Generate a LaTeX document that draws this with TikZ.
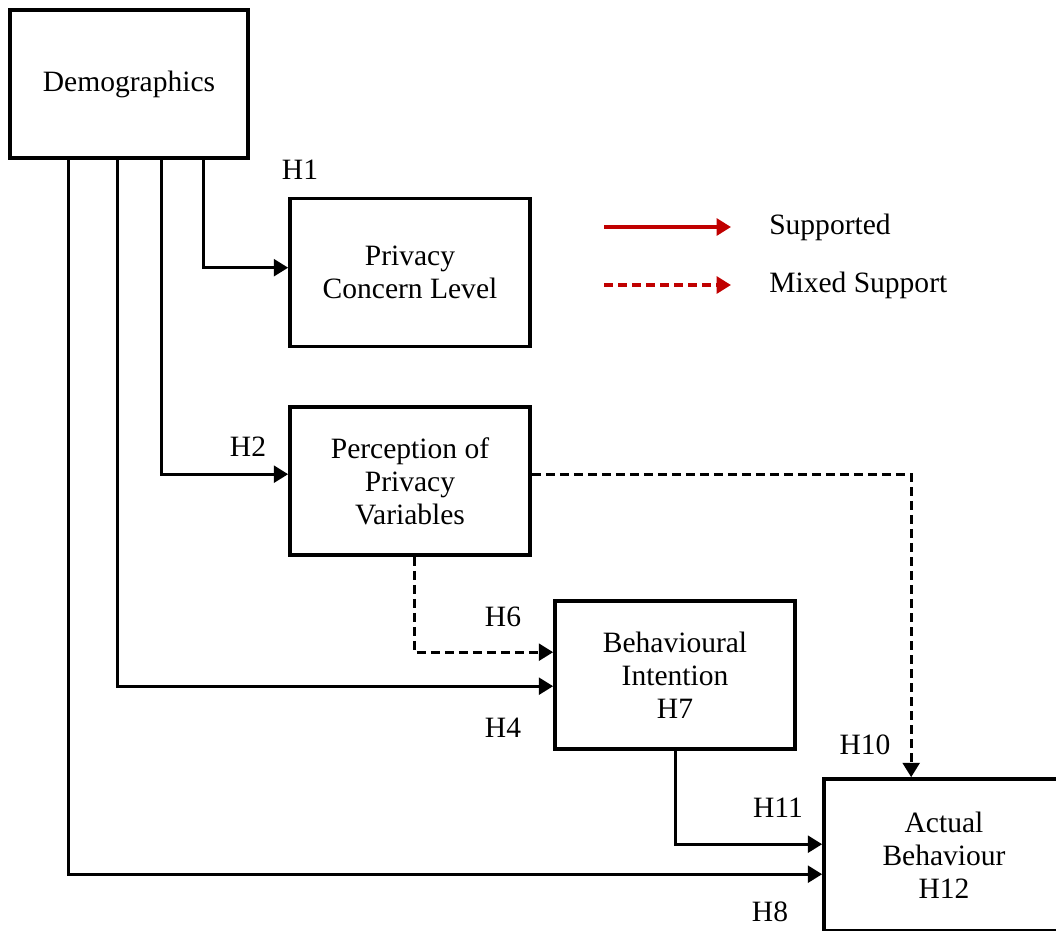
\documentclass[tikz,border=0pt]{standalone}
\usepackage{fontspec}
\setmainfont{Liberation Serif}
\usepackage{xcolor}
\definecolor{legendred}{HTML}{C00000}
\usepackage{tikz}
\usetikzlibrary{arrows.meta, positioning, calc}

\tikzset{
  box/.style={draw, line width=0.09cm, minimum width=6cm, minimum height=3.7cm,
    align=center, font=\fontsize{21}{23.4}\selectfont},
  hlabel/.style={font=\fontsize{21}{23.4}\selectfont},
  link/.style={line width=0.08cm, -{Triangle[length=0.36cm, width=0.42cm]}},
  dashlink/.style={link, dash pattern=on 0.22cm off 0.13cm},
}

\begin{document}
\begin{tikzpicture}[x=0.025cm, y=-0.025cm]
  \useasboundingbox (0,0) rectangle (1056,930);
  \clip (0,0) rectangle (1056,930);

  % constructs
  \node[box, minimum width=5.95cm] (demo) at (129,84) {Demographics};
  \node[box] (concern) at (410,272.5) {Privacy\\Concern Level};
  \node[box] (percep) at (410,481) {Perception of\\Privacy\\Variables};
  \node[box] (intent) at (675,675) {Behavioural\\Intention\\H7};
  \node[box, minimum height=3.8cm] (actual) at (944,855) {Actual\\Behaviour\\H12};

  % hypotheses
  \draw[link] ($(demo.south west)+(195,0)$) |- ($(concern.north west)+(0,71)$);
  \draw[link] ($(demo.south west)+(153,0)$) |- ($(percep.north west)+(0,69)$);
  \draw[link] ($(demo.south west)+(109,0)$) |- ($(intent.north west)+(0,87)$);
  \draw[link] ($(demo.south west)+(60,0)$) |- ($(actual.north west)+(0,97)$);
  \draw[dashlink] ($(percep.south west)+(126,0)$) |- ($(intent.north west)+(0,53)$);
  \draw[dashlink] ($(percep.north east)+(0,69)$) -| ($(actual.north west)+(89,0)$);
  \draw[link] ($(intent.south west)+(122,0)$) |- ($(actual.north west)+(0,67)$);

  \node[hlabel] (h1) at (300,170) {H1};
  \node[hlabel] (h2) at (248,447) {H2};
  \node[hlabel] (h4) at (503,728) {H4};
  \node[hlabel] (h6) at (503,617) {H6};
  \node[hlabel] (h8) at (770,912) {H8};
  \node[hlabel] (h10) at (865,745) {H10};
  \node[hlabel] (h11) at (778,808) {H11};

  % legend
  \coordinate (sup a) at (604,227);
  \coordinate (sup b) at (731,227);
  \coordinate (mix a) at (604,285);
  \coordinate (mix b) at (731,285);
  \draw[link, line width=0.1cm, legendred] (sup a) -- (sup b);
  \draw[dashlink, line width=0.1cm, legendred] (mix a) -- (mix b);
  \node[hlabel, anchor=west, inner sep=0pt] (sup) at (769,227) {Supported};
  \node[hlabel, anchor=west, inner sep=0pt] (mix) at (769,285) {Mixed Support};
\end{tikzpicture}
\end{document}
